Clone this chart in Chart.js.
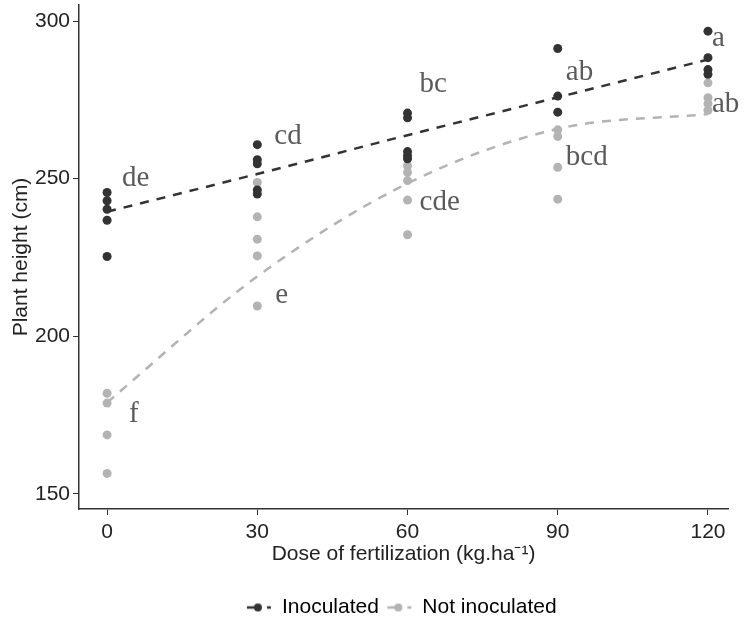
<!DOCTYPE html>
<html>
<head>
<meta charset="utf-8">
<script src="https://cdn.jsdelivr.net/npm/chart.js@4.4.0/dist/chart.umd.min.js"></script>
<style>
  body { margin: 0; background: #fff; }
  #wrap { width: 746px; height: 628px; position: relative; }
</style>
</head>
<body>
<div id="wrap"><canvas id="chart"></canvas></div>
<script>
// raw observations
const inoculatedDose = [0, 0, 0, 0, 0, 30, 30, 30, 30, 30, 60, 60, 60, 60, 60, 90, 90, 90, 120, 120, 120, 120];
const inoculatedHeight = [245.6, 243.0, 240.3, 236.8, 225.3, 260.8, 256.0, 254.7, 246.4, 245.1, 270.8, 269.3, 258.6, 257.3, 256.3, 291.3, 276.2, 271.1, 296.8, 288.4, 284.6, 283.1];
const notInoculatedDose = [0, 0, 0, 0, 30, 30, 30, 30, 30, 60, 60, 60, 60, 60, 90, 90, 90, 90, 120, 120, 120, 120];
const notInoculatedHeight = [181.9, 178.8, 168.7, 156.5, 248.8, 237.9, 230.8, 225.5, 209.6, 254.1, 252.0, 249.4, 243.2, 232.2, 265.5, 263.4, 253.6, 243.5, 280.4, 275.7, 273.8, 271.7];

// fitted curves
const trendDose = [0, 30, 60, 90, 120];
const inoculatedTrend = [239.5, 251.5, 263.8, 275.8, 287.8];
const notInoculatedTrend = [179.0, 219.0, 248.5, 265.8, 270.5];

// significance letters
const letterText = ["de", "f", "cd", "e", "bc", "cde", "ab", "bcd", "a", "ab"];
const letterDose = [3.0, 4.4, 33.4, 33.6, 62.4, 62.4, 91.6, 91.6, 120.8, 120.8];
const letterHeight = [250.0, 175.2, 263.4, 213.1, 279.9, 242.4, 283.8, 256.7, 294.6, 273.6];

const yTicks = [150, 200, 250, 300];
const xTicks = [0, 30, 60, 90, 120];

const darkCol = "#333333";
const lightCol = "#b3b3b3";
const textFont = { size: 21, family: "Liberation Sans", lineHeight: 1 };

const toXY = (xs, ys) => xs.map((x, i) => ({ x: x, y: ys[i] }));

function legendIcon(color) {
  const c = document.createElement("canvas");
  c.width = 30; c.height = 10;
  const ctx = c.getContext("2d");
  ctx.strokeStyle = color;
  ctx.lineWidth = 2.5;
  ctx.beginPath(); ctx.moveTo(1, 5); ctx.lineTo(12, 5); ctx.stroke();
  ctx.beginPath(); ctx.moveTo(21, 5); ctx.lineTo(25, 5); ctx.stroke();
  ctx.fillStyle = color;
  ctx.beginPath(); ctx.arc(12, 5, 4, 0, Math.PI * 2); ctx.fill();
  return c;
}

const lettersPlugin = {
  id: "letters",
  afterDatasetsDraw(chart) {
    const { ctx, scales } = chart;
    ctx.save();
    ctx.font = "29px 'Liberation Serif'";
    ctx.fillStyle = "#5a5a5a";
    ctx.textAlign = "left";
    ctx.textBaseline = "middle";
    letterText.forEach((t, i) => {
      ctx.fillText(t, scales.x.getPixelForValue(letterDose[i]), scales.y.getPixelForValue(letterHeight[i]));
    });
    ctx.restore();
  },
};

new Chart(document.getElementById("chart"), {
  type: "scatter",
  data: {
    datasets: [
      {
        label: "Inoculated",
        data: toXY(inoculatedDose, inoculatedHeight),
        backgroundColor: darkCol,
        borderColor: darkCol,
        pointRadius: 4.5,
        borderWidth: 0,
        order: 2,
      },
      {
        label: "Not inoculated",
        data: toXY(notInoculatedDose, notInoculatedHeight),
        backgroundColor: lightCol,
        borderColor: lightCol,
        pointRadius: 4.5,
        borderWidth: 0,
        order: 3,
      },
      {
        label: "trend1",
        data: toXY(trendDose, inoculatedTrend),
        showLine: true,
        borderColor: darkCol,
        borderWidth: 2.5,
        borderDash: [9, 8],
        pointRadius: 0,
        cubicInterpolationMode: "monotone",
        order: 0,
      },
      {
        label: "trend2",
        data: toXY(trendDose, notInoculatedTrend),
        showLine: true,
        borderColor: lightCol,
        borderWidth: 2.5,
        borderDash: [9, 8],
        pointRadius: 0,
        cubicInterpolationMode: "monotone",
        order: 1,
      },
    ],
  },
  options: {
    responsive: true,
    maintainAspectRatio: false,
    animation: false,
    layout: { padding: { top: 5, right: 18, left: 11, bottom: 0 } },
    plugins: {
      tooltip: { enabled: false },
      legend: {
        position: "bottom",
        fullSize: false,
        labels: {
          filter: (item) => item.datasetIndex < 2,
          color: "#222",
          font: textFont,
          padding: 12,
          boxWidth: 30,
          generateLabels: (chart) =>
            chart.data.datasets.map((ds, i) => ({
              text: ds.label,
              datasetIndex: i,
              pointStyle: legendIcon(ds.backgroundColor),
              fillStyle: ds.backgroundColor,
              strokeStyle: ds.backgroundColor,
              lineWidth: 0,
            })),
          usePointStyle: true,
        },
      },
    },
    scales: {
      x: {
        type: "linear",
        min: -5.6,
        max: 124,
        afterBuildTicks: (axis) => { axis.ticks = xTicks.map((v) => ({ value: v })); },
        grid: { drawOnChartArea: false, drawTicks: true, tickLength: 6, color: darkCol },
        border: { color: darkCol, width: 1.5 },
        ticks: { color: "#222", font: textFont, padding: 6.5 },
        title: {
          display: true,
          text: "Dose of fertilization (kg.ha\u207B\u00B9)",
          color: "#222",
          font: textFont,
          padding: { top: -5, bottom: 20 },
        },
      },
      y: {
        type: "linear",
        min: 145.2,
        max: 305.1,
        afterBuildTicks: (axis) => { axis.ticks = yTicks.map((v) => ({ value: v })); },
        afterFit: (axis) => { axis.paddingTop = 0; axis.paddingBottom = 0; },
        grid: { drawOnChartArea: false, drawTicks: true, tickLength: 6, color: darkCol },
        border: { color: darkCol, width: 1.5 },
        ticks: { color: "#222", font: textFont, padding: 3 },
        title: {
          display: true,
          text: "Plant height (cm)",
          color: "#222",
          font: textFont,
          padding: 0,
        },
      },
    },
  },
  plugins: [lettersPlugin],
});
</script>
</body>
</html>
